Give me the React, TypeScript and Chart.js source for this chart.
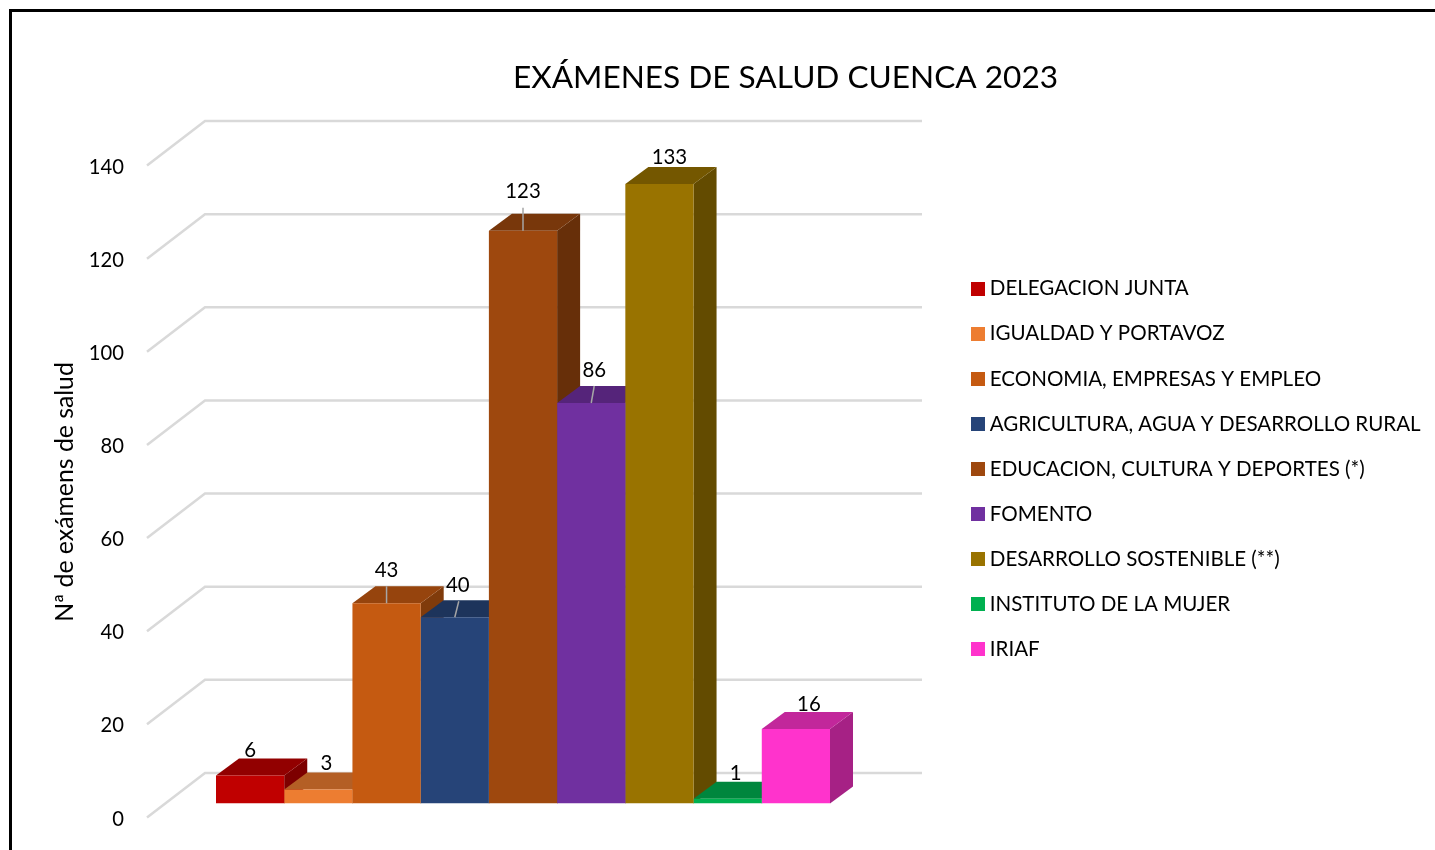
import React, { useEffect, useRef } from "react";
import { Chart, registerables } from "chart.js";

Chart.register(...registerables);

const categories = ["Cuenca 2023"];
const departments = [
  "DELEGACION JUNTA",
  "IGUALDAD Y PORTAVOZ",
  "ECONOMIA, EMPRESAS Y EMPLEO",
  "AGRICULTURA, AGUA Y DESARROLLO RURAL",
  "EDUCACION, CULTURA Y DEPORTES (*)",
  "FOMENTO",
  "DESARROLLO SOSTENIBLE (**)",
  "INSTITUTO DE LA MUJER",
  "IRIAF",
];
const examValues = [6, 3, 43, 40, 123, 86, 133, 1, 16];
const frontColors = [
  "#C00000", "#ED7D31", "#C55A11", "#264478", "#9E480E",
  "#7030A0", "#997300", "#00B050", "#FF33CC",
];
const titleText = "EXÁMENES DE SALUD CUENCA 2023";
const yAxisTitle = "Nª de exámens de salud";

// 3D look
const FONT = "Lato";
const DEPTH_X = 23;
const DEPTH_Y = 17;
const WALL_X = 58;
const WALL_Y = 44.5;
const FRONT_DROP = 14;
const labelNudgeX = [0, 8, 0, 3, 0, 3, 10, 8, 13];
const labelLift = [8, 9, 16, 15, 22, 16, 10, 8, 8];
const leaderEndX = [0, 0, 0, 4, 0, 3, 0, 0, 0];

function shade(hex: string, f: number) {
  const n = parseInt(hex.slice(1), 16);
  const r = Math.round(((n >> 16) & 255) * f);
  const g = Math.round(((n >> 8) & 255) * f);
  const b = Math.round((n & 255) * f);
  return `rgb(${r},${g},${b})`;
}

function swatch(color: string) {
  const c = document.createElement("canvas");
  c.width = 14;
  c.height = 14;
  const x = c.getContext("2d")!;
  x.fillStyle = color;
  x.fillRect(0, 0, 14, 14);
  return c;
}

const poly = (ctx: CanvasRenderingContext2D, pts: number[][], fill: string) => {
  ctx.fillStyle = fill;
  ctx.beginPath();
  pts.forEach(([x, y], i) => (i ? ctx.lineTo(x, y) : ctx.moveTo(x, y)));
  ctx.closePath();
  ctx.fill();
};

const threeD = {
  id: "threeD",
  afterLayout(chart: any) {
    // fixed placement of the title, legend and axis title
    const t = chart.titleBlock;
    t.left = 136;
    t.right = 1435;
    const l = chart.legend;
    const pad = l.options.labels.padding;
    l.left = 976.5 - pad;
    l.right = 1435;
    l.top = 278.5 - pad;
    l.bottom = 850;
    const y = chart.scales.y;
    if (!y.__shifted) {
      const orig = y.drawTitle;
      y.drawTitle = function (...a: any[]) {
        chart.ctx.save();
        chart.ctx.translate(0, 14.5);
        orig.apply(this, a);
        chart.ctx.restore();
      };
      y.__shifted = true;
    }
  },
  beforeDraw(chart: any) {
    const ctx = chart.ctx;
    ctx.save();
    ctx.fillStyle = "#fff";
    ctx.fillRect(0, 0, chart.width, chart.height);
    ctx.strokeStyle = "#000";
    ctx.lineWidth = 3;
    ctx.strokeRect(10.5, 10.5, 1600, 1000);
    ctx.restore();
  },
  beforeDatasetsDraw(chart: any) {
    const ctx = chart.ctx;
    const y = chart.scales.y;
    const { left, right } = chart.chartArea;
    ctx.save();
    ctx.strokeStyle = "#D9D9D9";
    ctx.lineWidth = 2.5;
    y.ticks.forEach((t: any) => {
      const py = y.getPixelForValue(t.value) + FRONT_DROP;
      ctx.beginPath();
      ctx.moveTo(left + DEPTH_X, py);
      ctx.lineTo(left + DEPTH_X + WALL_X, py - WALL_Y);
      ctx.lineTo(right, py - WALL_Y);
      ctx.stroke();
    });
    chart.data.datasets.forEach((ds: any, i: number) => {
      const el = chart.getDatasetMeta(i).data[0];
      const { x, y: top, base, width } = el.getProps(["x", "y", "base", "width"], true);
      const l = x - width / 2;
      const r = x + width / 2;
      poly(ctx, [[r, top], [r + DEPTH_X, top - DEPTH_Y], [r + DEPTH_X, base - DEPTH_Y], [r, base]], shade(frontColors[i], 0.65));
      poly(ctx, [[l, top], [l + DEPTH_X, top - DEPTH_Y], [r + DEPTH_X, top - DEPTH_Y], [r, top]], shade(frontColors[i], 0.76));
    });
    ctx.restore();
  },
  afterDatasetsDraw(chart: any) {
    const ctx = chart.ctx;
    ctx.save();
    chart.data.datasets.forEach((ds: any, i: number) => {
      const el = chart.getDatasetMeta(i).data[0];
      const { x, y: top } = el.getProps(["x", "y"], true);
      const ty = top - DEPTH_Y - labelLift[i];
      if (labelLift[i] >= 15) {
        ctx.strokeStyle = "#A6A6A6";
        ctx.lineWidth = 1.5;
        ctx.beginPath();
        ctx.moveTo(x, top);
        ctx.lineTo(x + leaderEndX[i], ty + 16);
        ctx.stroke();
      }
      ctx.fillStyle = "#000";
      ctx.font = `20.4px ${FONT}`;
      ctx.textAlign = "center";
      ctx.textBaseline = "middle";
      ctx.fillText(String(ds.data[0]), x + labelNudgeX[i], ty);
    });
    ctx.restore();
  },
};

export default function App() {
  const ref = useRef<HTMLCanvasElement>(null);
  useEffect(() => {
    const chart = new Chart(ref.current!, {
      type: "bar",
      data: {
        labels: categories,
        datasets: departments.map((name, i) => ({
          label: name,
          data: [examValues[i]],
          backgroundColor: frontColors[i],
          barPercentage: 1,
          categoryPercentage: 614 / 798,
        })),
      },
      options: {
        animation: false,
        responsive: false,
        layout: { padding: { left: 0, right: 43, top: 0, bottom: 46.5 } },
        scales: {
          x: { display: false },
          y: {
            min: 0,
            max: 140,
            grid: { display: false, drawTicks: false },
            border: { display: false },
            afterFit(s: any) {
              s.width = 124;
              s.paddingTop = 0;
              s.paddingBottom = 0;
            },
            ticks: {
              stepSize: 20,
              color: "#000",
              padding: 0,
              labelOffset: 15.5,
              font: { family: FONT, size: 20.2 },
            },
            title: {
              display: true,
              text: yAxisTitle,
              color: "#000",
              padding: { top: 50, bottom: 0 },
              font: { family: FONT, size: 24.8 },
            },
          },
        },
        plugins: {
          tooltip: { enabled: false },
          title: {
            display: true,
            text: titleText,
            color: "#000",
            font: { family: FONT, size: 31.6, weight: "normal" },
            padding: { top: 59, bottom: 54.6 },
          },
          legend: {
            position: "right",
            align: "start",
            maxWidth: 470,
            labels: {
              usePointStyle: true,
              boxWidth: 3,
              boxHeight: 14,
              padding: 24.5,
              color: "#000",
              font: { family: FONT, size: 20.55 },
              generateLabels: () =>
                departments.map((name, i) => ({
                  text: name,
                  pointStyle: swatch(frontColors[i]),
                  fillStyle: frontColors[i],
                  strokeStyle: frontColors[i],
                  lineWidth: 0,
                  datasetIndex: i,
                  hidden: false,
                })),
            },
          },
        },
      } as any,
      plugins: [threeD],
    });
    return () => chart.destroy();
  }, []);
  return (
    <div style={{ position: "fixed", left: 0, top: 0, width: 1435, height: 850, overflow: "hidden", background: "#fff" }}>
      <canvas ref={ref} width={1435} height={850} style={{ display: "block" }} />
    </div>
  );
}
